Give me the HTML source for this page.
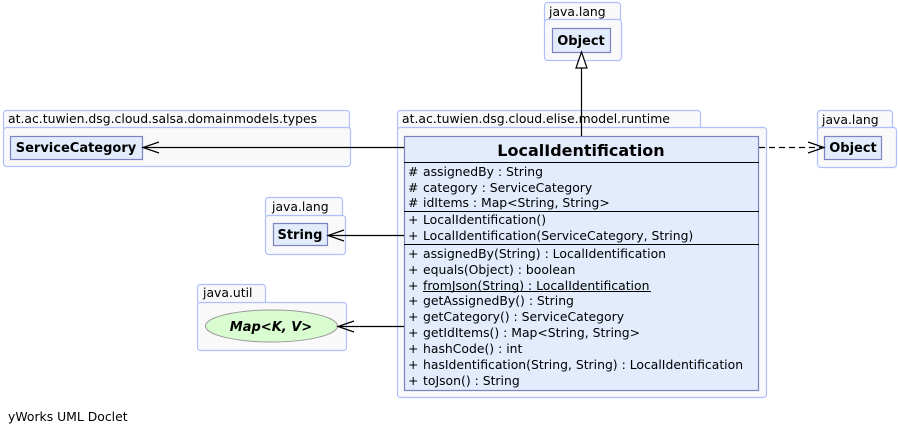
<!DOCTYPE html>
<html><head><meta charset="utf-8"><style>
body{margin:0;background:#fff}
svg{display:block}
text{font-family:"DejaVu Sans","Liberation Sans",sans-serif;fill:#000}
.pk{fill:#f9f9f9;stroke:#b0c0ff;stroke-width:1.2}
.cl{fill:#e2ecfd;stroke:#7f82c0;stroke-width:1.2}
.m{font-size:12.4px}
.b{font-size:13px;font-weight:bold}
</style></head><body>
<svg width="898" height="435" viewBox="0 0 898 435">
<!-- top java.lang -->
<rect class="pk" x="544.5" y="2.5" width="76" height="20" rx="3"/>
<rect class="pk" x="544.5" y="19.5" width="77" height="41" rx="3"/>
<rect class="cl" x="552.5" y="28.5" width="58" height="24"/>
<text class="b" x="581" y="45" text-anchor="middle">Object</text>
<text class="m" x="549" y="16">java.lang</text>

<!-- salsa package -->
<rect class="pk" x="3.5" y="110.5" width="346" height="20" rx="3"/>
<rect class="pk" x="3.5" y="127.5" width="347" height="39" rx="3"/>
<text class="m" x="8" y="123">at.ac.tuwien.dsg.cloud.salsa.domainmodels.types</text>
<rect class="cl" x="10.5" y="136.5" width="132" height="23"/>
<text class="b" x="76" y="152" text-anchor="middle">ServiceCategory</text>

<!-- String package -->
<rect class="pk" x="265.5" y="197.5" width="77" height="20" rx="3"/>
<rect class="pk" x="265.5" y="215.5" width="80" height="39" rx="3"/>
<text class="m" x="272" y="211">java.lang</text>
<rect class="cl" x="273.5" y="223.5" width="54" height="22"/>
<text class="b" x="300" y="239" text-anchor="middle">String</text>

<!-- java.util -->
<rect class="pk" x="197.5" y="284.5" width="68" height="20" rx="3"/>
<rect class="pk" x="197.5" y="302.5" width="149" height="48" rx="3"/>
<text class="m" x="203" y="297">java.util</text>
<ellipse cx="271.5" cy="326" rx="66" ry="16" fill="#d9fdd0" stroke="#999" stroke-width="1"/>
<text x="271" y="331" text-anchor="middle" style="font-size:13px;font-weight:bold;font-style:italic">Map&lt;K, V&gt;</text>

<!-- right java.lang -->
<rect class="pk" x="817.5" y="110.5" width="75" height="20" rx="3"/>
<rect class="pk" x="817.5" y="127.5" width="79" height="40" rx="3"/>
<text class="m" x="822" y="124">java.lang</text>
<rect class="cl" x="824.5" y="136.5" width="57" height="23"/>
<text class="b" x="853" y="152" text-anchor="middle">Object</text>

<!-- runtime package -->
<rect class="pk" x="397.5" y="110.5" width="303" height="20" rx="3"/>
<rect class="pk" x="397.5" y="127.5" width="369" height="270" rx="3"/>
<text class="m" x="402" y="123">at.ac.tuwien.dsg.cloud.elise.model.runtime</text>
<rect class="cl" x="404.5" y="136.5" width="354" height="254"/>
<text x="581" y="156" text-anchor="middle" style="font-size:16px;font-weight:bold">LocalIdentification</text>
<line x1="404" y1="162.5" x2="759" y2="162.5" stroke="#000"/>
<line x1="404" y1="211.5" x2="759" y2="211.5" stroke="#000"/>
<line x1="404" y1="244.5" x2="759" y2="244.5" stroke="#000"/>
<text class="m" x="408" y="176">#</text><text class="m" x="423" y="176">assignedBy : String</text>
<text class="m" x="408" y="192">#</text><text class="m" x="423" y="192">category : ServiceCategory</text>
<text class="m" x="408" y="207">#</text><text class="m" x="423" y="207">idItems : Map&lt;String, String&gt;</text>
<text class="m" x="408" y="224">+</text><text class="m" x="423" y="224">LocalIdentification()</text>
<text class="m" x="408" y="240">+</text><text class="m" x="423" y="240">LocalIdentification(ServiceCategory, String)</text>
<text class="m" x="408" y="258">+</text><text class="m" x="423" y="258">assignedBy(String) : LocalIdentification</text>
<text class="m" x="408" y="274">+</text><text class="m" x="423" y="274">equals(Object) : boolean</text>
<text class="m" x="408" y="290">+</text><text class="m" x="423" y="290">fromJson(String) : LocalIdentification</text>
<text class="m" x="408" y="305">+</text><text class="m" x="423" y="305">getAssignedBy() : String</text>
<text class="m" x="408" y="321">+</text><text class="m" x="423" y="321">getCategory() : ServiceCategory</text>
<text class="m" x="408" y="337">+</text><text class="m" x="423" y="337">getIdItems() : Map&lt;String, String&gt;</text>
<text class="m" x="408" y="353">+</text><text class="m" x="423" y="353">hashCode() : int</text>
<text class="m" x="408" y="369">+</text><text class="m" x="423" y="369">hasIdentification(String, String) : LocalIdentification</text>
<text class="m" x="408" y="385">+</text><text class="m" x="423" y="385">toJson() : String</text>
<line x1="423" y1="291.5" x2="651" y2="291.5" stroke="#000"/>

<!-- connectors -->
<g stroke="#000" fill="none" stroke-width="1.2">
<line x1="581.5" y1="136" x2="581.5" y2="68"/>
<polygon points="581.5,52 576,68 587,68" fill="#fff"/>
<line x1="143" y1="147.5" x2="404" y2="147.5"/>
<polyline points="159,142 143,147.5 159,153"/>
<line x1="328" y1="235.5" x2="404" y2="235.5"/>
<polyline points="344,230 328,235.5 344,241"/>
<line x1="338" y1="326.5" x2="404" y2="326.5"/>
<polyline points="354,321 338,326.5 354,332"/>
<line x1="759" y1="147.5" x2="824" y2="147.5" stroke-dasharray="6,4"/>
<polyline points="808,142 824,147.5 808,153"/>
</g>
<text class="m" x="8" y="421">yWorks UML Doclet</text>
</svg>
</body></html>
